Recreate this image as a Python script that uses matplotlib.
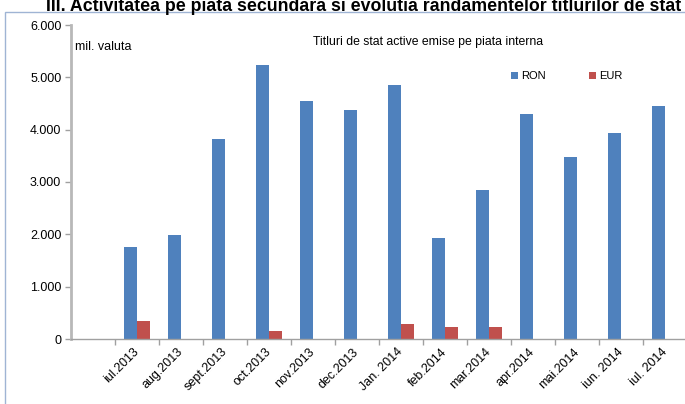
import matplotlib
matplotlib.use("Agg")
import matplotlib.pyplot as plt
from matplotlib.patches import Rectangle
import numpy as np

months = ["iul.2013", "aug.2013", "sept.2013", "oct.2013", "nov.2013", "dec.2013", "Jan. 2014",
          "feb.2014", "mar.2014", "apr.2014", "mai.2014", "iun. 2014", "iul. 2014"]
ron = [1760, 1990, 3820, 5240, 4550, 4380, 4860, 1930, 2850, 4300, 3470, 3940, 4460]
eur = [340, 0, 0, 160, 0, 0, 285, 225, 225, 0, 0, 0, 0]

plt.rcParams["font.family"] = ["Liberation Sans", "DejaVu Sans"]
fig = plt.figure(figsize=(6.85, 4.04), dpi=100)
ax = fig.add_axes([71/685, 1-339/404, 616/685, (339-25)/404])

# outer chart frame
fig.patches.append(Rectangle((5/685, -0.1), 1.2, 1-12/404+0.1, transform=fig.transFigure,
                             fill=False, edgecolor="#9fb4d4", linewidth=1.0))

x = np.arange(len(months))
w = 0.3
ax.bar(x - w/2, ron, w, color="#4f81bd", label="RON")
ax.bar(x + w/2, eur, w, color="#c0504d", label="EUR")

ax.set_xlim(-1.5, len(months) - 0.5)
ax.set_ylim(0, 6000)
ax.set_yticks(range(0, 6001, 1000))
ax.set_yticklabels(["0", "1.000", "2.000", "3.000", "4.000", "5.000", "6.000"], fontsize=9)
ax.set_xticks(x)
ax.set_xticklabels(months, rotation=45, ha="right", va="center", rotation_mode="anchor", fontsize=9)
ax.tick_params(axis="x", which="major", length=0, pad=8)
ax.set_xticks(np.arange(-0.5, len(months)), minor=True)
ax.tick_params(axis="x", which="minor", length=4, color="#a0a0a0", width=1)
ax.tick_params(axis="y", length=4, color="#a0a0a0", width=1, pad=3)

for s in ["top", "right"]:
    ax.spines[s].set_visible(False)
ax.spines["left"].set_color("#b8b8b8")
ax.spines["left"].set_linewidth(2)
ax.spines["bottom"].set_color("#a0a0a0")
ax.spines["bottom"].set_linewidth(1)

fig.text(364/685, 1-11/404, "III. Activitatea pe piata secundara si evolutia randamentelor titlurilor de stat",
         ha="center", va="baseline", fontsize=12.8, fontweight="bold")
fig.text(75/685, 1-47/404, "mil. valuta", ha="left", va="center", fontsize=9)
fig.text(428/685, 1-42/404, "Titluri de stat active emise pe piata interna", ha="center", va="center", fontsize=8.8)

ax.legend(loc="upper left", bbox_to_anchor=((501-71)/616, (339-61)/314), ncol=2, frameon=False,
          fontsize=8, handlelength=0.6, handleheight=0.6, columnspacing=3.9, handletextpad=0.3)

fig.savefig("out.png", dpi=100)
